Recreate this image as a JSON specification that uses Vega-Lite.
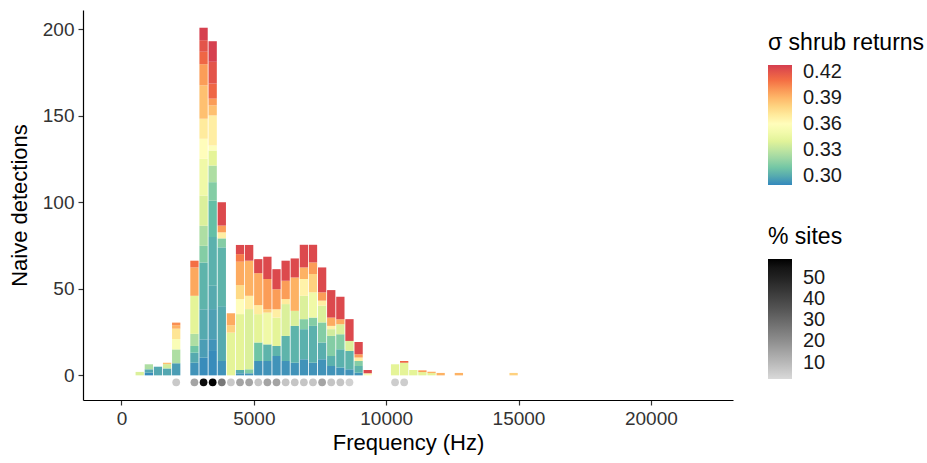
{
"$schema": "https://vega.github.io/schema/vega-lite/v6.json",
"width": 650, "height": 390,
"autosize": {"type": "none"},
"padding": {"left": 83, "top": 10, "right": 194, "bottom": 63},
"background": "white",
"config": {
  "view": {"stroke": null},
  "font": "Liberation Sans",
  "axis": {"grid": false, "domainColor": "#000000", "domainWidth": 1.2, "tickColor": "#333333", "tickSize": 5, "tickWidth": 1.2,
           "labelFont": "Liberation Sans", "labelFontSize": 19, "labelColor": "#333333", "labelPadding": 4,
           "titleFont": "Liberation Sans", "titleFontSize": 22, "titleFontWeight": "normal", "titleColor": "#000000"},
  "legend": {"titleFont": "Liberation Sans", "titleFontSize": 23, "titleFontWeight": "normal", "titleColor": "#000000",
             "labelFont": "Liberation Sans", "labelFontSize": 20, "labelColor": "#1a1a1a", "labelOverlap": false}
},
"datasets": {
  "bars": [
    {"f": 689, "sigma": 0.338, "n": 2},
    {"f": 1034, "sigma": 0.291, "n": 1.5}, {"f": 1034, "sigma": 0.299, "n": 2}, {"f": 1034, "sigma": 0.325, "n": 2.9},
    {"f": 1378, "sigma": 0.299, "n": 5},
    {"f": 1723, "sigma": 0.299, "n": 4}, {"f": 1723, "sigma": 0.335, "n": 2.5}, {"f": 1723, "sigma": 0.387, "n": 0.8},
    {"f": 2067, "sigma": 0.296, "n": 7}, {"f": 2067, "sigma": 0.325, "n": 8}, {"f": 2067, "sigma": 0.355, "n": 6}, {"f": 2067, "sigma": 0.373, "n": 6}, {"f": 2067, "sigma": 0.392, "n": 2}, {"f": 2067, "sigma": 0.402, "n": 1.5},
    {"f": 2756, "sigma": 0.293, "n": 7.3}, {"f": 2756, "sigma": 0.300, "n": 5.8}, {"f": 2756, "sigma": 0.309, "n": 3.9}, {"f": 2756, "sigma": 0.325, "n": 7}, {"f": 2756, "sigma": 0.341, "n": 22}, {"f": 2756, "sigma": 0.395, "n": 16.4}, {"f": 2756, "sigma": 0.41, "n": 3.9},
    {"f": 3101, "sigma": 0.291, "n": 10.2}, {"f": 3101, "sigma": 0.296, "n": 10.6}, {"f": 3101, "sigma": 0.300, "n": 17.4}, {"f": 3101, "sigma": 0.303, "n": 27}, {"f": 3101, "sigma": 0.314, "n": 9.7}, {"f": 3101, "sigma": 0.325, "n": 11.6}, {"f": 3101, "sigma": 0.338, "n": 17.4}, {"f": 3101, "sigma": 0.348, "n": 21.3}, {"f": 3101, "sigma": 0.36, "n": 11.6}, {"f": 3101, "sigma": 0.37, "n": 11.6}, {"f": 3101, "sigma": 0.387, "n": 19.3}, {"f": 3101, "sigma": 0.398, "n": 12.2}, {"f": 3101, "sigma": 0.413, "n": 7.2}, {"f": 3101, "sigma": 0.42, "n": 6.7}, {"f": 3101, "sigma": 0.427, "n": 7.2},
    {"f": 3445, "sigma": 0.291, "n": 14.1}, {"f": 3445, "sigma": 0.293, "n": 6.8}, {"f": 3445, "sigma": 0.297, "n": 17.4}, {"f": 3445, "sigma": 0.300, "n": 13.5}, {"f": 3445, "sigma": 0.302, "n": 28.2}, {"f": 3445, "sigma": 0.306, "n": 21}, {"f": 3445, "sigma": 0.314, "n": 10.7}, {"f": 3445, "sigma": 0.325, "n": 9.6}, {"f": 3445, "sigma": 0.341, "n": 8.7}, {"f": 3445, "sigma": 0.357, "n": 2.9}, {"f": 3445, "sigma": 0.368, "n": 17.4}, {"f": 3445, "sigma": 0.387, "n": 5.8}, {"f": 3445, "sigma": 0.398, "n": 3.9}, {"f": 3445, "sigma": 0.413, "n": 8.7}, {"f": 3445, "sigma": 0.42, "n": 12.6}, {"f": 3445, "sigma": 0.427, "n": 11.9},
    {"f": 3790, "sigma": 0.293, "n": 8.3}, {"f": 3790, "sigma": 0.300, "n": 31.7}, {"f": 3790, "sigma": 0.303, "n": 34}, {"f": 3790, "sigma": 0.314, "n": 5.2}, {"f": 3790, "sigma": 0.368, "n": 3.5}, {"f": 3790, "sigma": 0.398, "n": 3.9}, {"f": 3790, "sigma": 0.424, "n": 13.5},
    {"f": 4134, "sigma": 0.341, "n": 24.7}, {"f": 4134, "sigma": 0.381, "n": 4.3}, {"f": 4134, "sigma": 0.394, "n": 6.9},
    {"f": 4479, "sigma": 0.293, "n": 1.2}, {"f": 4479, "sigma": 0.301, "n": 1.9}, {"f": 4479, "sigma": 0.341, "n": 32.3}, {"f": 4479, "sigma": 0.36, "n": 8.7}, {"f": 4479, "sigma": 0.378, "n": 8.1}, {"f": 4479, "sigma": 0.394, "n": 13.5}, {"f": 4479, "sigma": 0.407, "n": 4.4}, {"f": 4479, "sigma": 0.424, "n": 5.3},
    {"f": 4823, "sigma": 0.293, "n": 1.2}, {"f": 4823, "sigma": 0.314, "n": 2.3}, {"f": 4823, "sigma": 0.338, "n": 34.8}, {"f": 4823, "sigma": 0.368, "n": 7.7}, {"f": 4823, "sigma": 0.392, "n": 20.3}, {"f": 4823, "sigma": 0.424, "n": 9.1},
    {"f": 5168, "sigma": 0.293, "n": 8.3}, {"f": 5168, "sigma": 0.309, "n": 10.7}, {"f": 5168, "sigma": 0.341, "n": 16.4}, {"f": 5168, "sigma": 0.37, "n": 5.2}, {"f": 5168, "sigma": 0.394, "n": 18.5}, {"f": 5168, "sigma": 0.424, "n": 8.1},
    {"f": 5512, "sigma": 0.293, "n": 8.3}, {"f": 5512, "sigma": 0.303, "n": 9.6}, {"f": 5512, "sigma": 0.348, "n": 18.4}, {"f": 5512, "sigma": 0.383, "n": 1.9}, {"f": 5512, "sigma": 0.398, "n": 17.5}, {"f": 5512, "sigma": 0.424, "n": 12.9},
    {"f": 5857, "sigma": 0.293, "n": 11.2}, {"f": 5857, "sigma": 0.303, "n": 5.8}, {"f": 5857, "sigma": 0.341, "n": 16.4}, {"f": 5857, "sigma": 0.368, "n": 4.8}, {"f": 5857, "sigma": 0.398, "n": 11.6}, {"f": 5857, "sigma": 0.424, "n": 11.6},
    {"f": 6202, "sigma": 0.293, "n": 8.3}, {"f": 6202, "sigma": 0.303, "n": 14.5}, {"f": 6202, "sigma": 0.338, "n": 18.4}, {"f": 6202, "sigma": 0.37, "n": 2.9}, {"f": 6202, "sigma": 0.398, "n": 10.6}, {"f": 6202, "sigma": 0.424, "n": 11.6},
    {"f": 6546, "sigma": 0.293, "n": 7.3}, {"f": 6546, "sigma": 0.303, "n": 21.3}, {"f": 6546, "sigma": 0.338, "n": 8.7}, {"f": 6546, "sigma": 0.392, "n": 19.3}, {"f": 6546, "sigma": 0.424, "n": 11},
    {"f": 6891, "sigma": 0.293, "n": 9.3}, {"f": 6891, "sigma": 0.302, "n": 17.4}, {"f": 6891, "sigma": 0.314, "n": 5.8}, {"f": 6891, "sigma": 0.338, "n": 13.5}, {"f": 6891, "sigma": 0.366, "n": 9.7}, {"f": 6891, "sigma": 0.392, "n": 6.7}, {"f": 6891, "sigma": 0.424, "n": 13.1},
    {"f": 7235, "sigma": 0.293, "n": 7.3}, {"f": 7235, "sigma": 0.302, "n": 21.3}, {"f": 7235, "sigma": 0.314, "n": 4.8}, {"f": 7235, "sigma": 0.348, "n": 14.6}, {"f": 7235, "sigma": 0.381, "n": 10.6}, {"f": 7235, "sigma": 0.398, "n": 6.7}, {"f": 7235, "sigma": 0.424, "n": 10.2},
    {"f": 7580, "sigma": 0.293, "n": 9.3}, {"f": 7580, "sigma": 0.301, "n": 9.7}, {"f": 7580, "sigma": 0.314, "n": 11.6}, {"f": 7580, "sigma": 0.338, "n": 9.7}, {"f": 7580, "sigma": 0.368, "n": 2.9}, {"f": 7580, "sigma": 0.398, "n": 4.8}, {"f": 7580, "sigma": 0.424, "n": 14.4},
    {"f": 7924, "sigma": 0.293, "n": 5.4}, {"f": 7924, "sigma": 0.302, "n": 5.8}, {"f": 7924, "sigma": 0.314, "n": 11.6}, {"f": 7924, "sigma": 0.335, "n": 3.9}, {"f": 7924, "sigma": 0.366, "n": 1.9}, {"f": 7924, "sigma": 0.394, "n": 4.8}, {"f": 7924, "sigma": 0.424, "n": 15.9},
    {"f": 8269, "sigma": 0.293, "n": 4.5}, {"f": 8269, "sigma": 0.302, "n": 10.6}, {"f": 8269, "sigma": 0.314, "n": 8.7}, {"f": 8269, "sigma": 0.338, "n": 5.8}, {"f": 8269, "sigma": 0.394, "n": 2.9}, {"f": 8269, "sigma": 0.424, "n": 12.9},
    {"f": 8613, "sigma": 0.293, "n": 3.5}, {"f": 8613, "sigma": 0.303, "n": 10.6}, {"f": 8613, "sigma": 0.338, "n": 5.8}, {"f": 8613, "sigma": 0.424, "n": 12.6},
    {"f": 8958, "sigma": 0.293, "n": 1.5}, {"f": 8958, "sigma": 0.303, "n": 3.9}, {"f": 8958, "sigma": 0.314, "n": 2.9}, {"f": 8958, "sigma": 0.368, "n": 2}, {"f": 8958, "sigma": 0.398, "n": 1.9}, {"f": 8958, "sigma": 0.424, "n": 7.1},
    {"f": 9302, "sigma": 0.355, "n": 1.2}, {"f": 9302, "sigma": 0.424, "n": 1.9},
    {"f": 10336, "sigma": 0.341, "n": 6.4},
    {"f": 10680, "sigma": 0.341, "n": 7.3}, {"f": 10680, "sigma": 0.413, "n": 1},
    {"f": 11025, "sigma": 0.341, "n": 3.1},
    {"f": 11369, "sigma": 0.341, "n": 1.9}, {"f": 11369, "sigma": 0.398, "n": 1},
    {"f": 11714, "sigma": 0.341, "n": 1.3}, {"f": 11714, "sigma": 0.392, "n": 0.8},
    {"f": 12058, "sigma": 0.392, "n": 1.4},
    {"f": 12747, "sigma": 0.392, "n": 1.4},
    {"f": 14814, "sigma": 0.381, "n": 1.4}
  ],
  "sites": [
    {"f": 2067, "pct": 6}, {"f": 2756, "pct": 15}, {"f": 3101, "pct": 57}, {"f": 3445, "pct": 59}, {"f": 3790, "pct": 26},
    {"f": 4134, "pct": 6}, {"f": 4479, "pct": 15}, {"f": 4823, "pct": 15}, {"f": 5168, "pct": 7}, {"f": 5512, "pct": 15},
    {"f": 5857, "pct": 15}, {"f": 6202, "pct": 7}, {"f": 6546, "pct": 7}, {"f": 6891, "pct": 7}, {"f": 7235, "pct": 7},
    {"f": 7580, "pct": 15}, {"f": 7924, "pct": 7}, {"f": 8269, "pct": 7}, {"f": 8613, "pct": 4},
    {"f": 10336, "pct": 5}, {"f": 10680, "pct": 5}
  ]
},
"layer": [
  {
    "data": {"name": "bars"},
    "mark": {"type": "bar", "width": 8.3},
    "encoding": {
      "x": {"field": "f", "type": "quantitative",
            "scale": {"domain": [-1265, 22914], "nice": false, "zero": false},
            "axis": {"values": [0, 5000, 10000, 15000, 20000], "format": "d", "title": "Frequency (Hz)", "titlePadding": 4}},
      "y": {"field": "n", "type": "quantitative", "stack": "zero",
            "scale": {"domain": [-14.25, 211.25], "nice": false, "zero": false},
            "axis": {"values": [0, 50, 100, 150, 200], "title": "Naive detections", "titlePadding": 11}},
      "color": {"field": "sigma", "type": "quantitative",
                "scale": {"domain": [0.2897, 0.4277], "range": ["#3288BD", "#66C2A5", "#ABDDA4", "#E6F598", "#FFFFBF", "#FEE08B", "#FDAE61", "#F46D43", "#D53E4F"], "interpolate": "lab"},
                "legend": {"title": "σ shrub returns", "orient": "none", "legendX": 685, "legendY": 22, "direction": "vertical",
                           "values": [0.30, 0.33, 0.36, 0.39, 0.42], "format": ".2f",
                           "gradientLength": 120, "gradientThickness": 24, "labelOffset": 11, "titlePadding": 10}},
      "order": {"field": "sigma", "type": "quantitative", "sort": "ascending"}
    }
  },
  {
    "data": {"name": "sites"},
    "mark": {"type": "circle", "size": 60, "opacity": 1},
    "encoding": {
      "x": {"field": "f", "type": "quantitative"},
      "y": {"datum": -4},
      "fill": {"field": "pct", "type": "quantitative",
               "scale": {"domain": [2.2, 59.1], "range": ["#d9d9d9", "#000000"], "interpolate": "lab"},
               "legend": {"title": "% sites", "orient": "none", "legendX": 685, "legendY": 216, "direction": "vertical",
                          "values": [10, 20, 30, 40, 50],
                          "gradientLength": 120, "gradientThickness": 24, "labelOffset": 11, "titlePadding": 10}}
    }
  }
]
}
